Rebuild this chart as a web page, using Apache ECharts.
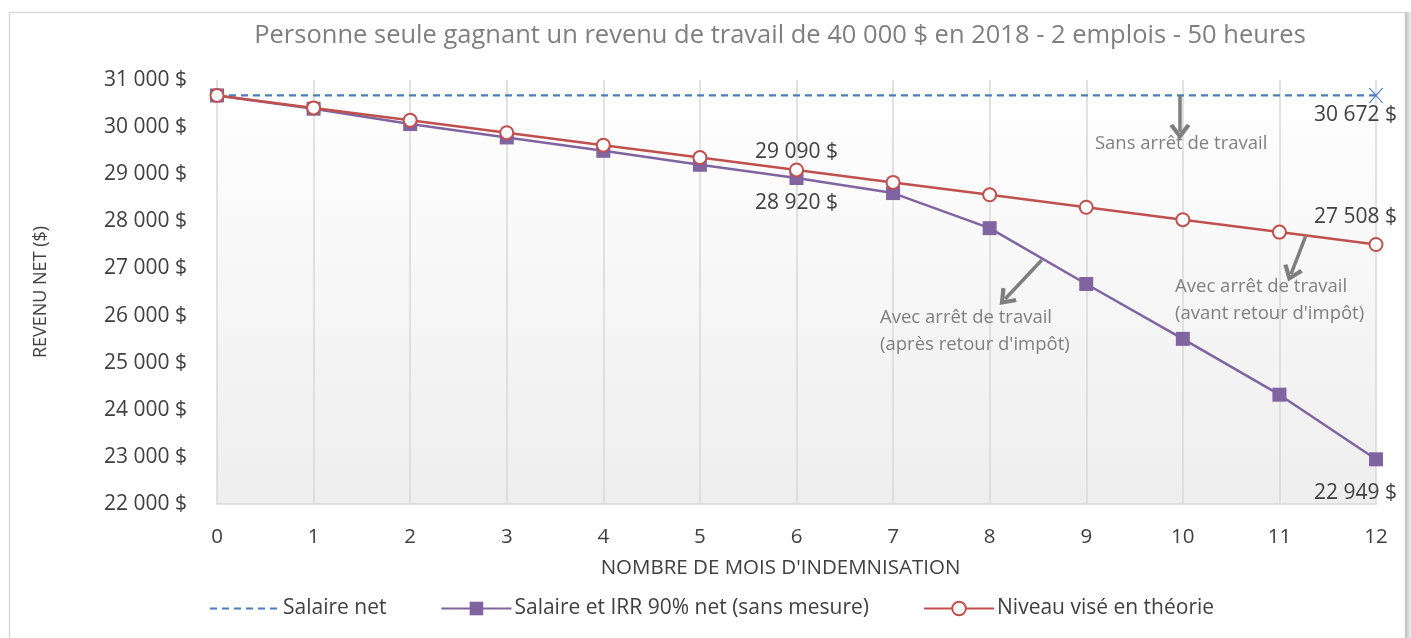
<!DOCTYPE html>
<html>
<head>
<meta charset="utf-8">
<script src="https://cdn.jsdelivr.net/npm/echarts@6/dist/echarts.min.js"></script>
<style>
html,body{margin:0;padding:0;background:#fff;}
#chart{width:1411px;height:638px;}
</style>
</head>
<body>
<div id="chart"></div>
<script>
// ---- data ----
const months = [0,1,2,3,4,5,6,7,8,9,10,11,12];
const salaireNet = [30672,30672,30672,30672,30672,30672,30672,30672,30672,30672,30672,30672,30672];
const salaireIRR = [30672,30391,30065,29780,29497,29200,28920,28600,27855,26670,25505,24320,22949];
const niveauVise = [30672,30408,30145,29881,29617,29354,29090,28826,28563,28299,28035,27772,27508];
const seriesNames = ['Salaire net','Salaire et IRR 90% net (sans mesure)','Niveau visé en théorie'];
const yTicks = [22000,23000,24000,25000,26000,27000,28000,29000,30000,31000];
const title = 'Personne seule gagnant un revenu de travail de 40 000 $ en 2018 - 2 emplois - 50 heures';

const FONT = 'Open Sans';
const fmt = v => String(Math.round(v)).replace(/\B(?=(\d{3})+(?!\d))/g, ' ') + ' $';

const labelBase = {show:true, formatter: p => fmt(p.value[1]), fontFamily: FONT, fontSize: 21, color:'#404040'};

function pairs(arr, labels){
  return months.map((m,i) => {
    const item = {value:[m, arr[i]]};
    if (labels && labels[i]) item.label = Object.assign({}, labelBase, labels[i]);
    return item;
  });
}

const crossPath = 'path://M0,0 L2,0 L10,8 L18,0 L20,0 L11,9 L20,18 L18,18 L10,10 L2,18 L0,18 L9,9 Z';
const chevron = 'path://M10,0 L20,12 L16.5,14 L10,6 L3.5,14 L0,12 Z';

const blueData = pairs(salaireNet, {12:{position:'bottom', align:'right', offset:[21,-3]}});
blueData[12].symbol = crossPath;
blueData[12].symbolSize = 15;

const arrowStyle = {color:'#7f7f7f', width:3.5, type:'solid', opacity:1};
const annotLabel = {fontFamily: FONT, fontSize: 18.5, color:'#7f7f7f', lineHeight: 27, align:'left', verticalAlign:'middle'};

const option = {
  backgroundColor:'#fff',
  animation:false,
  title:{
    text:title, left: 775, textAlign:'center', top:18,
    textStyle:{fontFamily:FONT, fontSize:25.5, fontWeight:'normal', color:'#7f7f7f'}
  },
  grid:{left:217, right:35, top:80, bottom:134, show:true, borderWidth:0,
    backgroundColor: new echarts.graphic.LinearGradient(0,0,0,1,[{offset:0,color:'#ffffff'},{offset:1,color:'#eeeeee'}])},
  legend:{
    bottom:14, left:204, itemGap:54, itemWidth:70, itemHeight:17,
    textStyle:{fontFamily:FONT, fontSize:21, color:'#404040', padding:[0,0,0,-2]},
    data: [
      {name:seriesNames[0], itemStyle:{opacity:0}},
      {name:seriesNames[1]},
      {name:seriesNames[2]}
    ]
  },
  xAxis:{
    type:'value', min:0, max:12, interval:1,
    name:'NOMBRE DE MOIS D\'INDEMNISATION', nameLocation:'middle', nameGap:54,
    nameTextStyle:{fontFamily:FONT, fontSize:20.5, color:'#404040', padding:[0,32,0,0]},
    axisLine:{show:true, lineStyle:{color:'#d9d9d9', width:1.5}},
    axisTick:{show:false},
    axisLabel:{fontFamily:FONT, fontSize:20.5, color:'#404040', margin:23},
    splitLine:{show:true, lineStyle:{color:'#d9d9d9', width:1.5}}
  },
  yAxis:{
    type:'value', min:yTicks[0], max:yTicks[yTicks.length-1], interval:1000,
    name:'REVENU NET ($)', nameLocation:'middle', nameGap:167,
    nameTextStyle:{fontFamily:FONT, fontSize:18, color:'#404040'},
    axisLine:{show:false}, axisTick:{show:false}, splitLine:{show:false},
    axisLabel:{fontFamily:FONT, fontSize:21, color:'#404040', margin:30, formatter: v => fmt(v)}
  },
  series:[
    {
      name:seriesNames[0], type:'line', data:blueData, symbol:'none', showSymbol:true,
      lineStyle:{color:'#4a7ebb', width:2.2, type:[7,5]},
      itemStyle:{color:'#4a7ebb'}, z:2,
      markLine:{
        silent:true, symbol:['none', chevron], symbolSize:[21,16],
        lineStyle:arrowStyle, label:{show:false},
        data:[
          [{coord:[9.97,30660]},{coord:[9.97,29900]}],
          [{coord:[8.54,27179]},{coord:[8.16,26350]}],
          [{coord:[11.27,27674]},{coord:[11.12,26880]}]
        ]
      },
      markPoint:{
        silent:true, symbol:'circle', symbolSize:0,
        data:[
          {coord:[9.09,29650], label:Object.assign({show:true, position:'right', distance:0, formatter:'Sans arrêt de travail'}, annotLabel)},
          {coord:[6.865,25660], label:Object.assign({show:true, position:'right', distance:0, formatter:'Avec arrêt de travail\n(après retour d\'impôt)'}, annotLabel)},
          {coord:[9.92,26330], label:Object.assign({show:true, position:'right', distance:0, formatter:'Avec arrêt de travail\n(avant retour d\'impôt)'}, annotLabel)}
        ]
      }
    },
    {
      name:seriesNames[1], type:'line',
      data:pairs(salaireIRR, {6:{position:'bottom', distance:8}, 12:{position:'bottom', align:'right', offset:[21,11]}}),
      symbol:'rect', symbolSize:14,
      lineStyle:{color:'#8064a2', width:2.5},
      itemStyle:{color:'#8064a2'}, z:3
    },
    {
      name:seriesNames[2], type:'line',
      data:pairs(niveauVise, {6:{position:'top', distance:5, offset:[0,5]}, 12:{position:'top', align:'right', offset:[21,-4]}}),
      symbol:'circle', symbolSize:13,
      lineStyle:{color:'#c0504d', width:2.5},
      itemStyle:{color:'#ffffff', borderColor:'#c0504d', borderWidth:2}, z:4
    }
  ],
  graphic:[
    {type:'rect', left:7, top:10, shape:{width:1398, height:640}, style:{fill:'none', stroke:'#d9d9d9', lineWidth:1.5}, silent:true, z:-1},
    {type:'rect', left:1405, top:12, shape:{width:6, height:640},
      style:{fill:new echarts.graphic.LinearGradient(0,0,1,0,[{offset:0,color:'#bdbdbd'},{offset:1,color:'#f0f0f0'}])}, silent:true, z:-1}
  ]
};

const chart = echarts.init(document.getElementById('chart'), null, {renderer:'canvas'});
chart.setOption(option);
</script>
</body>
</html>
